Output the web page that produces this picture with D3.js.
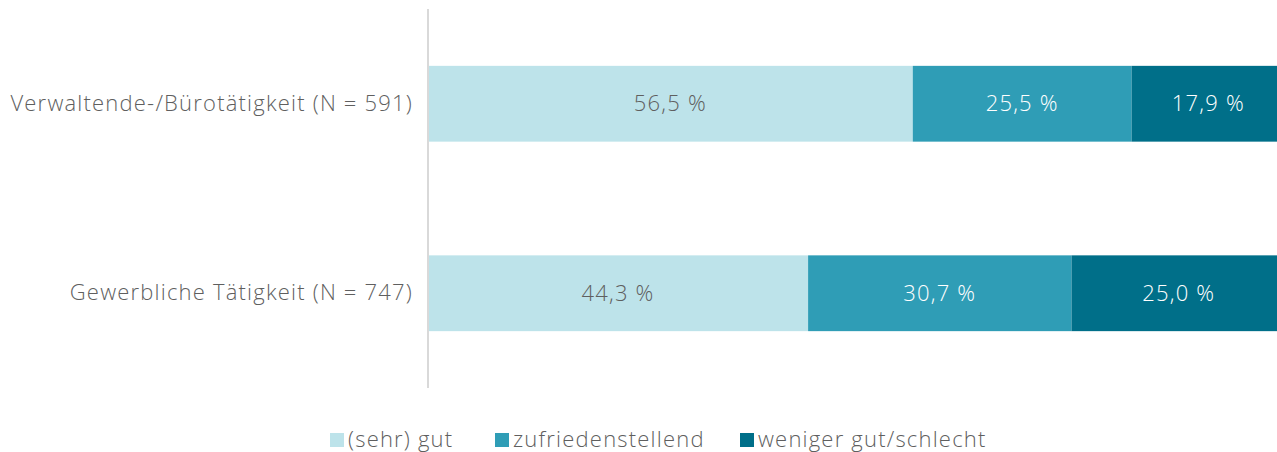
<!DOCTYPE html>
<html>
<head>
<meta charset="utf-8">
<script src="https://cdn.jsdelivr.net/npm/d3@7"></script>
<style>
  html, body { margin: 0; padding: 0; background: #fff; }
  svg text { font-family: "Open Sans", sans-serif; font-weight: 300; letter-spacing: 1.2px; }
</style>
</head>
<body>
<svg id="chart" width="1277" height="452"></svg>
<script>
const categories = ["Verwaltende-/Bürotätigkeit (N = 591)", "Gewerbliche Tätigkeit (N = 747)"];
const seriesNames = ["(sehr) gut", "zufriedenstellend", "weniger gut/schlecht"];
const sehrGut = [56.5, 44.3];
const zufrieden = [25.5, 30.7];
const wenigerGut = [17.9, 25.0];
const colors = ["#bde3ea", "#2f9db6", "#006f89"];
const labelColors = ["#5f5f5f", "#ffffff", "#ffffff"];
const fontSize = "22px";

const svg = d3.select("#chart");
const x = d3.scaleLinear().domain([0, 100]).range([428, 1286]);
const y = d3.scaleBand().domain(categories).range([9, 388]).paddingInner(0.6).paddingOuter(0.3);

const rows = categories.map((c, i) => ({ cat: c, vals: [sehrGut[i], zufrieden[i], wenigerGut[i]] }));
const stacked = d3.stack().keys([0, 1, 2]).value((d, k) => d.vals[k])(rows);

stacked.forEach((layer, k) => {
  const g = svg.append("g");
  g.selectAll("rect").data(layer).join("rect")
    .attr("x", d => x(d[0]))
    .attr("y", d => y(d.data.cat))
    .attr("width", d => x(d[1]) - x(d[0]))
    .attr("height", y.bandwidth())
    .attr("fill", colors[k]);
  g.selectAll("text").data(layer).join("text")
    .attr("x", d => (x(d[0]) + x(d[1])) / 2)
    .attr("y", d => y(d.data.cat) + y.bandwidth() / 2)
    .attr("dy", "0.35em")
    .attr("text-anchor", "middle")
    .attr("fill", labelColors[k])
    .style("font-size", fontSize)
    .text(d => d3.format(".1f")(d[1] - d[0]).replace(".", ",") + " %");
});

// category axis
const axis = svg.append("g").attr("transform", "translate(428,0)")
  .call(d3.axisLeft(y).tickSize(0).tickPadding(15));
axis.select(".domain").attr("stroke", "#d9d9d9").attr("stroke-width", 2)
  .attr("d", `M0,${y.range()[0]}V${y.range()[1]}`);
axis.selectAll("text").attr("fill", "#5f5f5f").style("font-size", fontSize)
  .style("font-family", "'Open Sans', sans-serif").style("font-weight", 300)
  .style("letter-spacing", "1.2px");

// legend
const legendX = [330, 495, 740];
const lg = svg.append("g");
seriesNames.forEach((n, k) => {
  lg.append("rect").attr("x", legendX[k]).attr("y", 433).attr("width", 14).attr("height", 14).attr("fill", colors[k]);
  lg.append("text").attr("x", legendX[k] + 18).attr("y", 447).attr("fill", "#5f5f5f")
    .style("font-size", fontSize).text(n);
});
</script>
</body>
</html>
